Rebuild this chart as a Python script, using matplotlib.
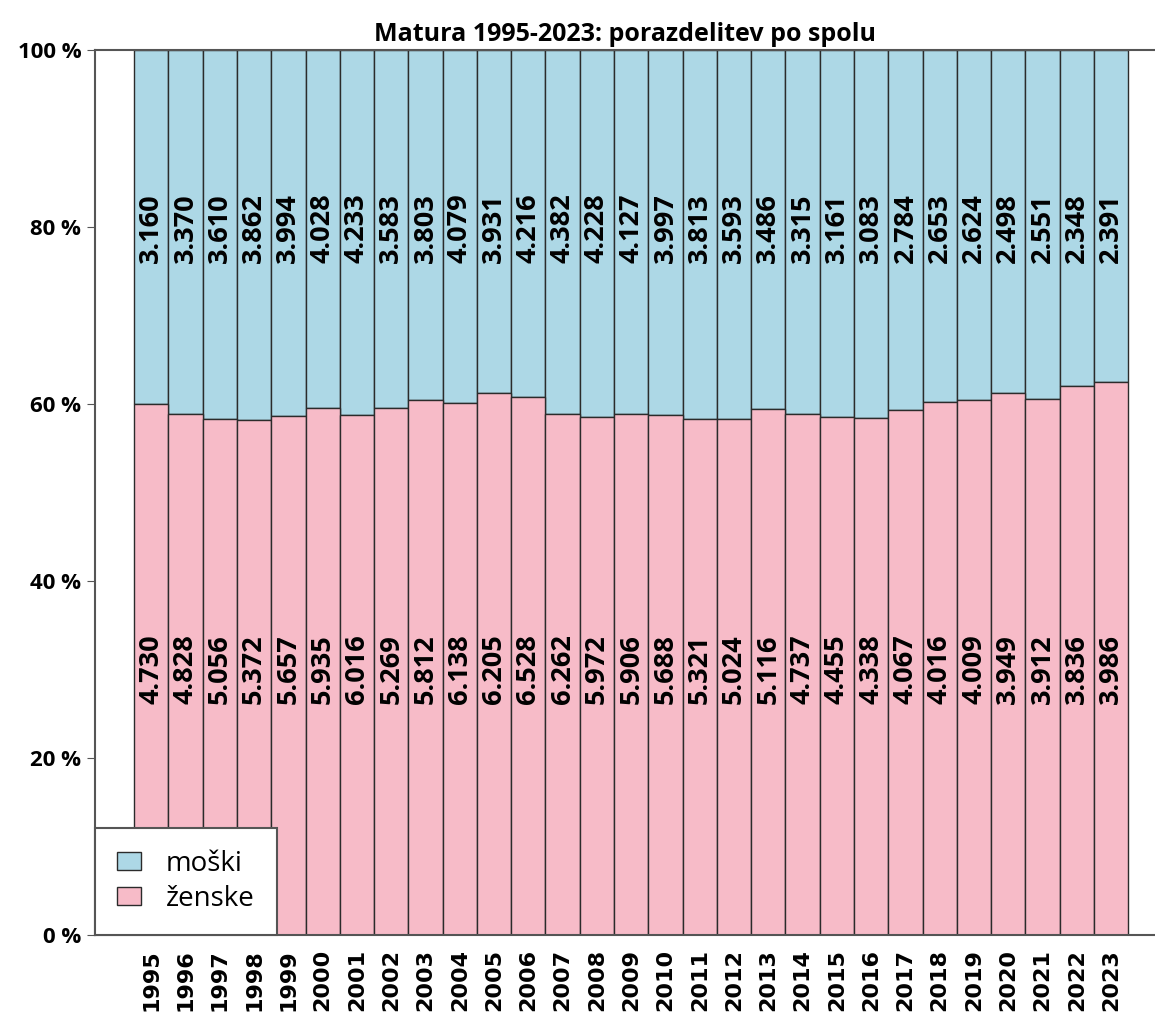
import numpy as np
import matplotlib
matplotlib.use('Agg')
import matplotlib.pyplot as plt
from matplotlib.ticker import FuncFormatter

# data
years = list(range(1995, 2024))
moski = [3160, 3370, 3610, 3862, 3994, 4028, 4233, 3583, 3803, 4079,
         3931, 4216, 4382, 4228, 4127, 3997, 3813, 3593, 3486, 3315,
         3161, 3083, 2784, 2653, 2624, 2498, 2551, 2348, 2391]
zenske = [4730, 4828, 5056, 5372, 5657, 5935, 6016, 5269, 5812, 6138,
          6205, 6528, 6262, 5972, 5906, 5688, 5321, 5024, 5116, 4737,
          4455, 4338, 4067, 4016, 4009, 3949, 3912, 3836, 3986]

plt.rcParams['font.family'] = ['Open Sans', 'DejaVu Sans']

m = np.array(moski, dtype=float)
z = np.array(zenske, dtype=float)
tot = m + z
z_pct = z / tot * 100
m_pct = m / tot * 100

fig = plt.figure(figsize=(11.55, 10.21), dpi=100)
ax = fig.add_axes([0.0823, 0.0842, 0.9177, 0.867])

ec = '#2b2b2b'
ax.bar(years, m_pct, bottom=z_pct, width=1.0, color='#add8e6', edgecolor=ec, linewidth=1.0, label='moški')
ax.bar(years, z_pct, width=1.0, color='#f7bbc8', edgecolor=ec, linewidth=1.0, label='ženske')

def fmt(v):
    return '{:,}'.format(v).replace(',', '.')

for x, a, b in zip(years, moski, zenske):
    ax.text(x, 79.9, fmt(a), rotation=90, ha='center', va='center', fontsize=19.5, fontweight='bold')
    ax.text(x, 30.0, fmt(b), rotation=90, ha='center', va='center', fontsize=19.5, fontweight='bold')

ax.set_xlim(1993.36, 2024.28)
ax.set_ylim(0, 100)
ax.set_yticks([0, 20, 40, 60, 80, 100])
ax.yaxis.set_major_formatter(FuncFormatter(lambda v, p: '%d %%' % v))
ax.set_xticks(years)
ax.set_xticklabels([str(y) for y in years], rotation=90, fontsize=16, fontweight='bold',
                   family=['DejaVu Sans'])
for lab in ax.get_yticklabels():
    lab.set_fontsize(16)
    lab.set_fontweight('bold')
ax.tick_params(axis='x', length=0, pad=10)
ax.tick_params(axis='y', length=6, color='#555555', pad=4)
for s in ax.spines.values():
    s.set_color('#555555')
    s.set_linewidth(1.5)
ax.spines['right'].set_visible(False)

ax.set_title('Matura 1995-2023: porazdelitev po spolu', fontsize=18, fontweight='bold', pad=6)

leg = ax.legend(loc='lower left', bbox_to_anchor=(0, 0), fontsize=20, frameon=True, fancybox=False,
                borderpad=0.8, handlelength=0.85, handleheight=0.6, handletextpad=0.9,
                labelspacing=0.25, borderaxespad=0)
leg.get_frame().set_edgecolor('#555555')
leg.get_frame().set_linewidth(1.5)
leg.get_frame().set_alpha(1)

fig.savefig('out.png', dpi=100)
